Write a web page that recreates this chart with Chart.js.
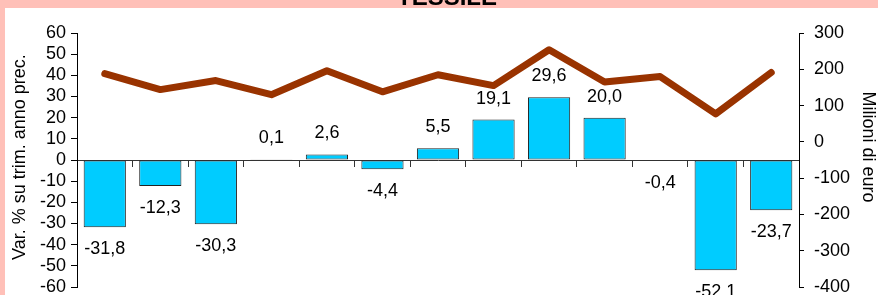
<!DOCTYPE html>
<html><head><meta charset="utf-8">
<script src="https://cdn.jsdelivr.net/npm/chart.js@4/dist/chart.umd.min.js"></script>
<style>html,body{margin:0;padding:0;background:#FFC0B8;overflow:hidden}#wrap{width:878px;height:295px;position:relative}</style>
</head><body><div id="wrap"><canvas id="c" width="878" height="295"></canvas></div>
<script>
const titleText = "TESSILE";
const leftAxisTitle = "Var. % su trim. anno prec.";
const rightAxisTitle = "Milioni di euro";
const categories = ["1","2","3","4","5","6","7","8","9","10","11","12","13"];
const pctChange = [-31.8, -12.3, -30.3, 0.1, 2.6, -4.4, 5.5, 19.1, 29.6, 20.0, -0.4, -52.1, -23.7];
const millionsEuro = [188, 144, 169, 130, 196, 138, 185, 155, 254, 165, 180, 77, 191];
const leftTicks = [60, 50, 40, 30, 20, 10, 0, -10, -20, -30, -40, -50, -60];
const rightTicks = [300, 200, 100, 0, -100, -200, -300, -400];

const FONT = '"Liberation Sans", Arial, sans-serif';

const fmt = v => v.toFixed(1).replace('.', ',');

const decor = {
  id: 'decor',
  beforeDraw(chart) {
    const c = chart.ctx;
    c.save();
    c.fillStyle = '#FFC0B8';
    c.fillRect(0, 0, chart.width, chart.height);
    c.fillStyle = '#FFFFFF';
    c.fillRect(5, 8, chart.width - 5, chart.height - 8);
    c.fillStyle = '#000';
    c.font = 'bold 24px ' + FONT;
    c.textAlign = 'center';
    c.textBaseline = 'alphabetic';
    c.fillText(titleText, 447, 5);
    c.restore();
  },
  afterDraw(chart) {
    const c = chart.ctx;
    c.save();
    c.fillStyle = '#000';
    c.font = '18px ' + FONT;
    c.textAlign = 'center';
    c.textBaseline = 'middle';
    c.translate(20, 157);
    c.rotate(-Math.PI / 2);
    c.fillText(leftAxisTitle, 0, 0);
    c.restore();
    c.save();
    c.fillStyle = '#000';
    c.font = '18px ' + FONT;
    c.textAlign = 'center';
    c.textBaseline = 'middle';
    c.translate(868, 147);
    c.rotate(Math.PI / 2);
    c.fillText(rightAxisTitle, 0, 0);
    c.restore();
  },
  afterDatasetsDraw(chart) {
    const c = chart.ctx;
    const meta = chart.getDatasetMeta(1);
    c.save();
    c.fillStyle = '#000';
    c.font = '18px ' + FONT;
    c.textAlign = 'center';
    c.textBaseline = 'middle';
    meta.data.forEach((el, i) => {
      const v = pctChange[i];
      const y = v >= 0 ? Math.min(el.y, el.base) - 21 : Math.max(el.y, el.base) + 22;
      c.fillText(fmt(v), el.x, y);
    });
    c.restore();
  }
};

new Chart(document.getElementById('c'), {
  type: 'bar',
  data: {
    labels: categories,
    datasets: [
      {
        type: 'line',
        data: millionsEuro,
        yAxisID: 'y1',
        borderColor: '#993300',
        borderWidth: 7,
        pointRadius: 0,
        tension: 0,
        borderJoinStyle: 'round',
        borderCapStyle: 'round',
        order: 0
      },
      {
        type: 'bar',
        data: pctChange,
        yAxisID: 'y',
        backgroundColor: '#00CCFF',
        borderColor: '#222222',
        borderWidth: 1,
        borderSkipped: false,
        categoryPercentage: 1,
        barPercentage: 0.76,
        order: 1
      }
    ]
  },
  options: {
    responsive: false,
    animation: false,
    events: [],
    layout: { padding: { top: 33, bottom: 8, left: 0, right: 0 } },
    plugins: { legend: { display: false }, tooltip: { enabled: false }, title: { display: false } },
    scales: {
      x: {
        position: { y: 0 },
        offset: true,
        grid: { display: true, drawOnChartArea: false, drawTicks: true, tickLength: 6, offset: true, color: '#333' },
        border: { display: true, color: '#333', width: 1 },
        ticks: { display: false }
      },
      y: {
        position: 'left',
        min: -60, max: 60,
        afterBuildTicks(s) { s.ticks = leftTicks.map(v => ({ value: v })); },
        afterFit(s) { s.width = 77; s.paddingTop = 0; s.paddingBottom = 0; },
        grid: { drawOnChartArea: false, drawTicks: true, tickLength: 6, color: '#000' },
        border: { display: true, color: '#000', width: 1 },
        ticks: { color: '#000', font: { size: 18, family: FONT }, padding: 5, autoSkip: false }
      },
      y1: {
        position: 'right',
        min: -400, max: 300,
        afterBuildTicks(s) { s.ticks = rightTicks.map(v => ({ value: v })); },
        afterFit(s) { s.width = 79; s.paddingTop = 0; s.paddingBottom = 0; },
        grid: { drawOnChartArea: false, drawTicks: true, tickLength: 5, color: '#000' },
        border: { display: true, color: '#000', width: 1 },
        ticks: { color: '#000', font: { size: 18, family: FONT }, padding: 10, autoSkip: false }
      }
    }
  },
  plugins: [decor]
});
</script>
</body></html>
